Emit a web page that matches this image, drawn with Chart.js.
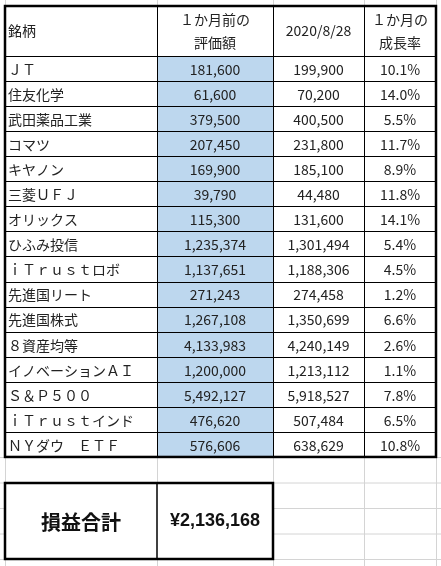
<!DOCTYPE html>
<html><head><meta charset="utf-8">
<script src="https://cdn.jsdelivr.net/npm/chart.js@4/dist/chart.umd.min.js"></script>
<style>html,body{margin:0;padding:0;background:#fff}#c{display:block}</style>
</head><body><div style="width:441px;height:566px"><canvas id="c"></canvas></div>
<script>
const names = ["ＪＴ","住友化学","武田薬品工業","コマツ","キヤノン","三菱ＵＦＪ","オリックス","ひふみ投信","ｉＴｒｕｓｔロボ","先進国リート","先進国株式","８資産均等","イノベーションＡＩ","Ｓ＆Ｐ５００","ｉＴｒｕｓｔインド","ＮＹダウ　ＥＴＦ"];
const prevValues = [181600,61600,379500,207450,169900,39790,115300,1235374,1137651,271243,1267108,4133983,1200000,5492127,476620,576606];
const currValues = [199900,70200,400500,231800,185100,44480,131600,1301494,1188306,274458,1350699,4240149,1213112,5918527,507484,638629];
const growth = ["10.1%","14.0%","5.5%","11.7%","8.9%","11.8%","14.1%","5.4%","4.5%","1.2%","6.6%","2.6%","1.1%","7.8%","6.5%","10.8%"];
const headers = [["銘柄"],["１か月前の","評価額"],["2020/8/28"],["１か月の","成長率"]];
const totalLabel = "損益合計";
const totalValue = "¥2,136,168";

const colX = [5,157,273,364,436];       // column edges
const headTop = 6, headBot = 56, rowH = 25.06;
const fmt = v => v.toLocaleString('en-US');
const JP = '"Noto Sans CJK JP", sans-serif';

const tablePlugin = {
  id:'table',
  afterDraw(chart){
    const ctx = chart.ctx, X = chart.scales.x, Y = chart.scales.y;
    const px = v => X.getPixelForValue(v), py = v => Y.getPixelForValue(v);
    ctx.save();
    // excel grid
    ctx.strokeStyle = '#d4d4d4'; ctx.lineWidth = 1;
    const gx = [5,157,273,364,436];
    for (const g of gx){ctx.beginPath();ctx.moveTo(px(g)+0.5,py(0));ctx.lineTo(px(g)+0.5,py(566));ctx.stroke();}
    for (let y = 457; y < 566; y += 25.5){ctx.beginPath();ctx.moveTo(px(0),py(y)+0.5);ctx.lineTo(px(441),py(y)+0.5);ctx.stroke();}
    ctx.fillStyle='#fff';
    ctx.fillRect(px(5),py(483),px(273)-px(5),py(559)-py(483));
    // blue column
    ctx.fillStyle = '#bdd7ee';
    ctx.fillRect(px(colX[1]),py(headBot),px(colX[2])-px(colX[1]),py(headBot+rowH*names.length)-py(headBot));
    // inner lines
    ctx.strokeStyle = '#000'; ctx.lineWidth = 1;
    const bottom = headBot + rowH*names.length;
    for (let i=1;i<4;i++){ctx.beginPath();ctx.moveTo(px(colX[i])+0.5,py(headTop));ctx.lineTo(px(colX[i])+0.5,py(bottom));ctx.stroke();}
    for (let r=0;r<names.length;r++){const y=headBot+rowH*r;ctx.beginPath();ctx.moveTo(px(colX[0]),Math.round(py(y))+0.5);ctx.lineTo(px(colX[4]),Math.round(py(y))+0.5);ctx.stroke();}
    ctx.lineWidth = 2.5;
    ctx.strokeRect(px(colX[0]),py(headTop),px(colX[4])-px(colX[0]),py(bottom)-py(headTop));
    // text
    ctx.fillStyle = '#222'; ctx.textBaseline='middle';
    ctx.font = '14px '+JP;
    headers.forEach((h,i)=>{
      const cx = i===0 ? px(colX[0])+3 : (px(colX[i])+px(colX[i+1]))/2;
      ctx.textAlign = i===0?'left':'center';
      if (h.length===1) ctx.fillText(h[0],cx,py((headTop+headBot)/2));
      else {ctx.fillText(h[0],cx,py(headTop+14));ctx.fillText(h[1],cx,py(headTop+37));}
    });
    names.forEach((n,r)=>{
      const cy = py(headBot+rowH*r+rowH/2+1);
      ctx.textAlign='left'; ctx.fillText(n,px(colX[0])+3,cy);
      ctx.textAlign='center';
      ctx.fillText(fmt(prevValues[r]),(px(colX[1])+px(colX[2]))/2,cy);
      ctx.fillText(fmt(currValues[r]),(px(colX[2])+px(colX[3]))/2,cy);
      ctx.fillText(growth[r],(px(colX[3])+px(colX[4]))/2,cy);
    });
    // total box
    ctx.lineWidth = 2.5; ctx.strokeStyle='#000';
    ctx.strokeRect(px(5),py(483),px(273)-px(5),py(559)-py(483));
    ctx.lineWidth = 1.5;
    ctx.beginPath();ctx.moveTo(px(157),py(483));ctx.lineTo(px(157),py(559));ctx.stroke();
    ctx.fillStyle='#111'; ctx.textAlign='center';
    ctx.font = 'bold 20px '+JP;
    ctx.fillText(totalLabel,(px(5)+px(157))/2,py(522));
    ctx.font = 'bold 18px "Liberation Sans", '+JP;
    ctx.fillText(totalValue,(px(157)+px(273))/2,py(521));
    ctx.restore();
  }
};

new Chart(document.getElementById('c'),{
  type:'scatter',
  data:{datasets:[{data:[],pointRadius:0}]},
  options:{
    responsive:true, maintainAspectRatio:false, animation:false,
    layout:{padding:0},
    plugins:{legend:{display:false},tooltip:{enabled:false}},
    scales:{
      x:{type:'linear',min:0,max:441,display:false},
      y:{type:'linear',min:0,max:566,reverse:true,display:false}
    }
  },
  plugins:[tablePlugin]
});
</script></body></html>
